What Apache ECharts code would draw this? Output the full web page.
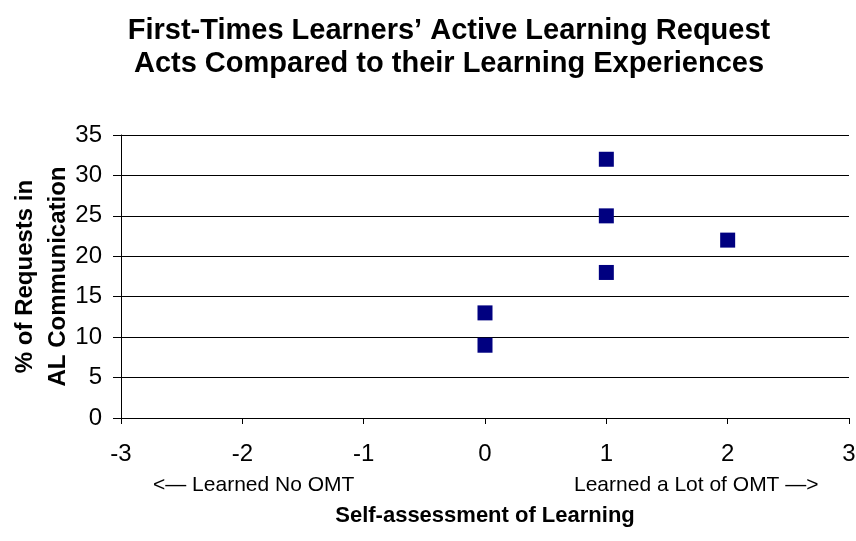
<!DOCTYPE html>
<html>
<head>
<meta charset="utf-8">
<script src="https://cdn.jsdelivr.net/npm/echarts@6/dist/echarts.min.js"></script>
<style>
  html, body { margin: 0; padding: 0; background: #fff; }
  #chart { width: 856px; height: 541px; }
</style>
</head>
<body>
<div id="chart"></div>
<script>
// self-assessment score vs % of requests
const selfScores = [1, 1, 1, 2, 0, 0]
const requestPct = [32, 25, 18, 22, 13, 9]
const titleLines = ['First-Times Learners\u2019 Active Learning Request', 'Acts Compared to their Learning Experiences']
const xNotes = ['<\u2014 Learned No OMT', 'Learned a Lot of OMT \u2014>']

const chart = echarts.init(document.getElementById('chart'))
const font = 'Liberation Sans, Arial, sans-serif'

const option = {
  backgroundColor: '#fff',
  animation: false,
  title: {
    text: titleLines.join('\n'),
    left: 444,
    textAlign: 'center',
    top: 9,
    textStyle: { fontFamily: font, fontSize: 29, fontWeight: 'bold', color: '#000', lineHeight: 33 }
  },
  grid: { left: 121, top: 135, right: 7, bottom: 123, outerBoundsMode: 'none', containLabel: false },
  xAxis: {
    type: 'value',
    min: -3,
    max: 3,
    interval: 1,
    name: 'Self-assessment of Learning',
    nameLocation: 'middle',
    nameGap: 87,
    nameMoveOverlap: false,
    nameTextStyle: { fontFamily: font, fontSize: 22, fontWeight: 'bold', color: '#000', verticalAlign: 'top' },
    axisLine: { show: true, onZero: false, lineStyle: { color: '#000', width: 1 } },
    axisTick: { show: true, length: 6, lineStyle: { color: '#000' } },
    axisLabel: { fontFamily: font, fontSize: 24, color: '#000', margin: 24 },
    splitLine: { show: false }
  },
  yAxis: {
    type: 'value',
    min: 0,
    max: 35,
    interval: 5,
    name: '% of Requests in\nAL Communication',
    nameLocation: 'middle',
    nameGap: 46,
    nameMoveOverlap: false,
    nameTextStyle: { fontFamily: font, fontSize: 24, fontWeight: 'bold', color: '#000', lineHeight: 33 },
    axisLine: { show: true, onZero: false, lineStyle: { color: '#000', width: 1 } },
    axisTick: { show: true, length: 8, lineStyle: { color: '#000' } },
    axisLabel: { fontFamily: font, fontSize: 24, color: '#000', margin: 19 },
    splitLine: { show: true, lineStyle: { color: '#000', width: 1 } }
  },
  graphic: [
    {
      type: 'text', left: 153, top: 475,
      style: { text: xNotes[0], fontFamily: font, fontSize: 21, fill: '#000' }
    },
    {
      type: 'text', left: 574, top: 475,
      style: { text: xNotes[1], fontFamily: font, fontSize: 21, fill: '#000' }
    }
  ],
  series: [{
    type: 'scatter',
    symbol: 'rect',
    symbolSize: 15,
    itemStyle: { color: '#000080', opacity: 1 },
    data: selfScores.map((x, i) => [x, requestPct[i]])
  }]
}
chart.setOption(option)
</script>
</body>
</html>
